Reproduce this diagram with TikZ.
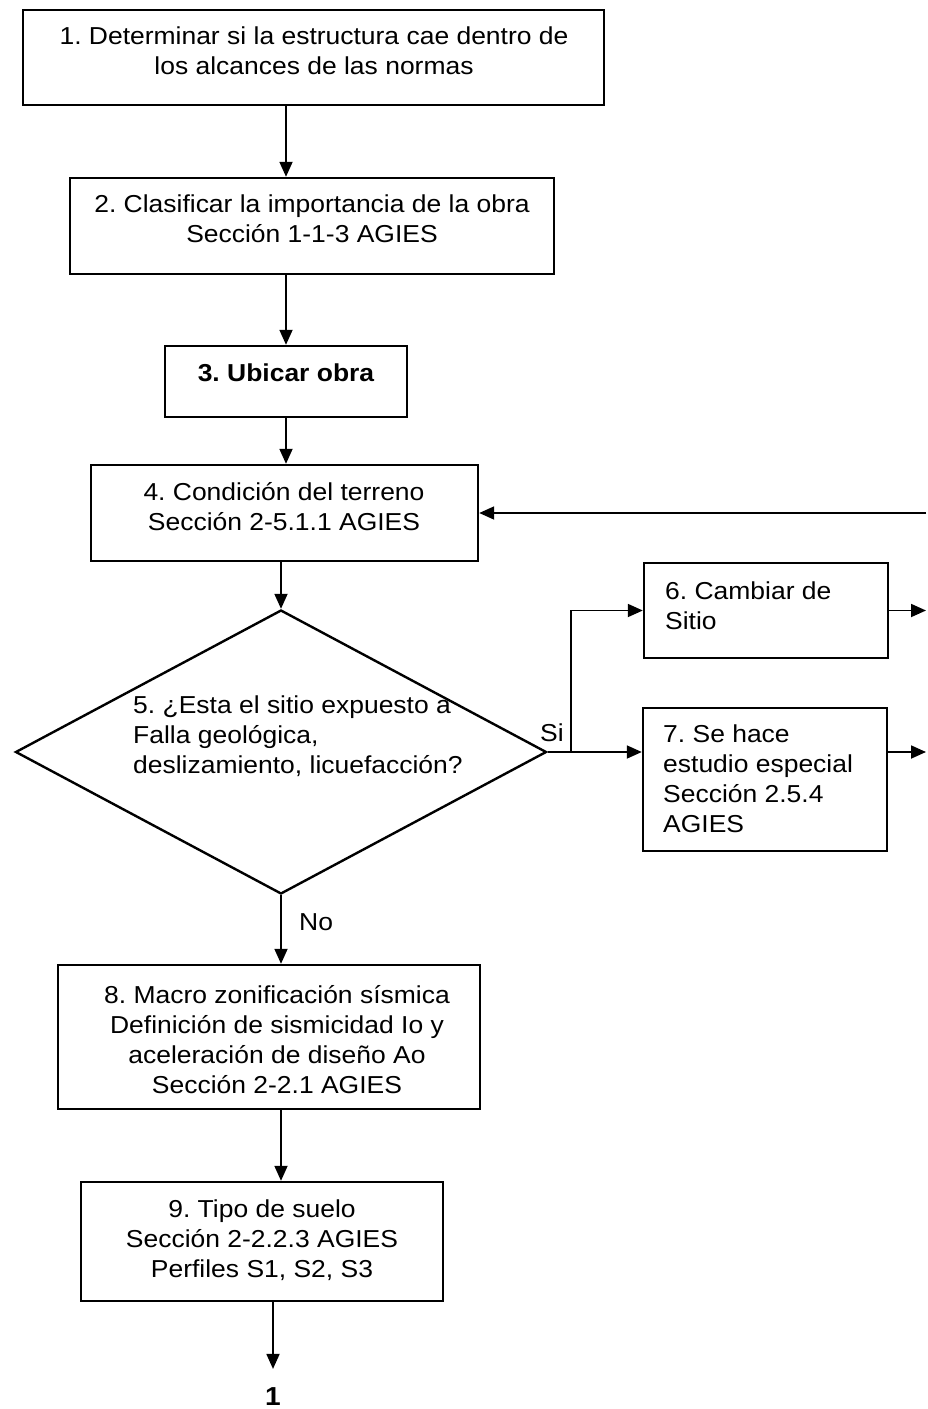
\documentclass[tikz,border=0pt]{standalone}
\usepackage{fontspec}
\setmainfont{Liberation Sans}[FakeStretch=1.08]
\usetikzlibrary{arrows.meta,shapes.geometric}
\newcommand{\mytextc}[1]{\parbox[t]{600bp}{\centering #1}}
\newcommand{\mytextl}[1]{\parbox[t]{500bp}{\raggedright #1}}
\tikzset{
  box/.style={draw, line width=2.4bp, inner sep=0pt},
  txt/.style={inner sep=0pt, font=\fontsize{24.5bp}{30bp}\selectfont},
  arr/.style={line width=1.8bp, -{Triangle[length=15bp,width=13bp]}}
}
\begin{document}
\frenchspacing
\begin{tikzpicture}[x=1bp,y=-1bp]
\useasboundingbox (0,0) rectangle (927,1409);
\fill[white] (0,0) rectangle (927,1409);

% boxes
\node[box, minimum width=581bp, minimum height=95bp] (b1) at (313.5,57.5) {};
\node[box, minimum width=484bp, minimum height=96bp] (b2) at (312,226) {};
\node[box, minimum width=242bp, minimum height=71bp] (b3) at (286,381.5) {};
\node[box, minimum width=387bp, minimum height=96bp] (b4) at (284.5,513) {};
\node[diamond, box, minimum width=531bp, minimum height=284bp] (d5) at (281,752) {};
\node[box, minimum width=244bp, minimum height=95bp] (b6) at (766,610.5) {};
\node[box, minimum width=244bp, minimum height=143bp] (b7) at (765,779.5) {};
\node[box, minimum width=422bp, minimum height=144bp] (b8) at (269,1037) {};
\node[box, minimum width=362bp, minimum height=119bp] (b9) at (262,1241.5) {};

% texts
\node[txt, anchor=base] (t1) at (314,45) {\mytextc{1. Determinar si la estructura cae dentro de\\los alcances de las normas}};
\node[txt, anchor=base] (t2) at (312,213) {\mytextc{2. Clasificar la importancia de la obra\\Sección 1-1-3 AGIES}};
\node[txt, anchor=base, font=\fontsize{24.5bp}{30bp}\selectfont\bfseries] (t3) at (286,381) {3. Ubicar obra};
\node[txt, anchor=base] (t4) at (284,500) {\mytextc{4. Condición del terreno\\Sección 2-5.1.1 AGIES}};
\node[txt, anchor=base west] (t5) at (133,713) {\mytextl{5. ¿Esta el sitio expuesto a\\Falla geológica,\\deslizamiento, licuefacción?}};
\node[txt, anchor=base west] (t6) at (665,599) {\mytextl{6. Cambiar de\\Sitio}};
\node[txt, anchor=base west] (t7) at (663,742) {\mytextl{7. Se hace\\estudio especial\\Sección 2.5.4\\AGIES}};
\node[txt, anchor=base] (t8) at (277,1003) {\mytextc{8. Macro zonificación sísmica\\Definición de sismicidad Io y\\aceleración de diseño Ao\\Sección 2-2.1 AGIES}};
\node[txt, anchor=base] (t9) at (262,1217) {\mytextc{9. Tipo de suelo\\Sección 2-2.2.3 AGIES\\Perfiles S1, S2, S3}};
\node[txt, anchor=base, font=\fontsize{26bp}{30bp}\selectfont\bfseries] (n1) at (273,1405) {1};
\node[txt, anchor=base west] (no) at (299,930) {No};
\node[txt, anchor=base] (si) at (552,741) {Si};

% helper coordinates
\coordinate (br) at (571,752);
\coordinate (rx) at (926,0);

% connectors
\draw[arr] (b1.south -| b3) -- (b2.north -| b3);
\draw[arr] (b2.south -| b3) -- (b3.north);
\draw[arr] (b3.south) -- (b4.north -| b3);
\draw[arr] (b4.south -| d5) -- (d5.north);
\draw[arr] (d5.south) -- (d5.south |- b8.north);
\draw[arr] (b8.south -| d5) -- (b9.north -| d5);
\draw[arr] (b9.south -| n1) -- ([yshift=18bp]n1.north);
\draw[arr] (d5.east) -- (d5.east -| b7.west);
\draw[arr] (br) |- (b6.west);
\draw[arr] (b6.east) -- (b6.east -| rx);
\draw[arr] (b7.east |- d5.east) -- (rx |- d5.east);
\draw[arr] (rx |- b4.east) -- (b4.east);
\end{tikzpicture}
\end{document}
